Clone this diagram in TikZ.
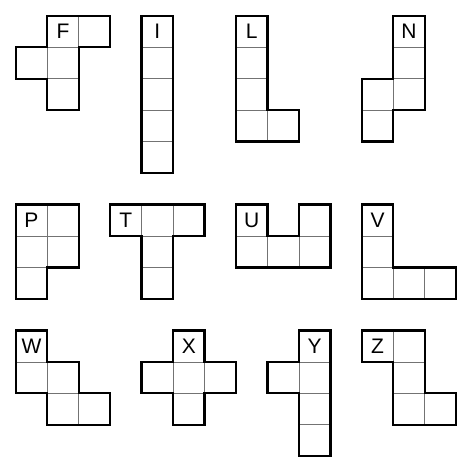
\documentclass[tikz,border=0pt]{standalone}
\usepackage{fontspec}
\setmainfont{Liberation Sans}
\begin{document}
\begin{tikzpicture}[x=1cm,y=-1cm,
  cellgrid/.style={draw=black!55,line width=0.6pt},
  outline/.style={draw=black,line width=2pt,line join=miter},
  lbl/.style={font=\fontsize{19}{19}\selectfont,inner sep=0pt,anchor=center}]
\useasboundingbox (-0.5,-0.5) rectangle (14.5,14.5);
\fill[white] (-0.5,-0.5) rectangle (14.5,14.5);
% cells
\foreach \c/\r in {1/0,2/0,0/1,1/1,1/2,
  4/0,4/1,4/2,4/3,4/4,
  7/0,7/1,7/2,7/3,8/3,
  12/0,12/1,12/2,11/2,11/3,
  0/6,1/6,0/7,1/7,0/8,
  3/6,4/6,5/6,4/7,4/8,
  7/6,9/6,7/7,8/7,9/7,
  11/6,11/7,11/8,12/8,13/8,
  0/10,0/11,1/11,1/12,2/12,
  5/10,4/11,5/11,6/11,5/12,
  9/10,8/11,9/11,9/12,9/13,
  11/10,12/10,12/11,12/12,13/12}
  \draw[cellgrid] (\c,\r) rectangle ++(1,1);
% outlines
\draw[outline] (1,0)--(3,0)--(3,1)--(2,1)--(2,3)--(1,3)--(1,2)--(0,2)--(0,1)--(1,1)--cycle;
\draw[outline] (4,0)--(5,0)--(5,5)--(4,5)--cycle;
\draw[outline] (7,0)--(8,0)--(8,3)--(9,3)--(9,4)--(7,4)--cycle;
\draw[outline] (12,0)--(13,0)--(13,3)--(12,3)--(12,4)--(11,4)--(11,2)--(12,2)--cycle;
\draw[outline] (0,6)--(2,6)--(2,8)--(1,8)--(1,9)--(0,9)--cycle;
\draw[outline] (3,6)--(6,6)--(6,7)--(5,7)--(5,9)--(4,9)--(4,7)--(3,7)--cycle;
\draw[outline] (7,6)--(8,6)--(8,7)--(9,7)--(9,6)--(10,6)--(10,8)--(7,8)--cycle;
\draw[outline] (11,6)--(12,6)--(12,8)--(14,8)--(14,9)--(11,9)--cycle;
\draw[outline] (0,10)--(1,10)--(1,11)--(2,11)--(2,12)--(3,12)--(3,13)--(1,13)--(1,12)--(0,12)--cycle;
\draw[outline] (5,10)--(6,10)--(6,11)--(7,11)--(7,12)--(6,12)--(6,13)--(5,13)--(5,12)--(4,12)--(4,11)--(5,11)--cycle;
\draw[outline] (9,10)--(10,10)--(10,14)--(9,14)--(9,12)--(8,12)--(8,11)--(9,11)--cycle;
\draw[outline] (11,10)--(13,10)--(13,12)--(14,12)--(14,13)--(12,13)--(12,11)--(11,11)--cycle;
% labels
\node[lbl] (lF) at (1.5,0.5) {F};
\node[lbl] (lI) at (4.5,0.5) {I};
\node[lbl] (lL) at (7.5,0.5) {L};
\node[lbl] (lN) at (12.5,0.5) {N};
\node[lbl] (lP) at (0.5,6.5) {P};
\node[lbl] (lT) at (3.5,6.5) {T};
\node[lbl] (lU) at (7.5,6.5) {U};
\node[lbl] (lV) at (11.5,6.5) {V};
\node[lbl] (lW) at (0.5,10.5) {W};
\node[lbl] (lX) at (5.5,10.5) {X};
\node[lbl] (lY) at (9.5,10.5) {Y};
\node[lbl] (lZ) at (11.5,10.5) {Z};
\end{tikzpicture}
\end{document}
